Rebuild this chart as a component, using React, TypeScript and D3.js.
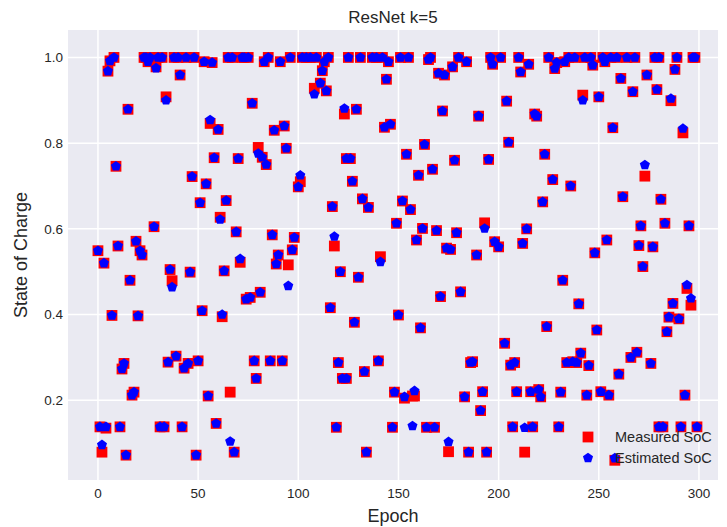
import React from "react";
import * as d3 from "d3";

const epochs = [0,1,2,3,4,5,6,7,8,9,10,11,12,13,14,15,16,17,18,19,20,21,22,23,24,25,26,28,29,30,31,32,33,34,35,36,37,38,39,40,41,42,43,44,45,46,47,48,49,50,51,52,53,54,55,56,57,58,59,60,61,62,63,64,65,66,67,68,69,70,71,72,73,74,75,76,77,78,79,80,81,82,83,84,85,86,87,88,89,90,91,92,93,94,95,96,97,98,100,101,102,104,106,108,109,111,112,113,114,115,116,117,118,119,120,121,122,123,124,124,125,126,127,128,129,130,131,132,133,134,135,137,139,140,141,142,143,144,145,146,147,148,149,150,151,152,153,154,155,156,157,158,159,160,161,162,163,164,165,166,167,168,169,170,171,172,173,174,175,176,177,178,179,180,181,183,184,185,186,187,189,190,191,192,193,194,195,196,197,198,200,201,203,204,205,206,207,208,209,210,211,212,213,214,215,216,217,218,219,220,221,222,223,224,225,227,228,229,230,231,232,233,234,235,236,237,238,239,240,241,242,243,244,245,246,247,248,249,250,251,252,253,254,255,256,257,258,259,260,261,262,264,266,267,268,269,270,271,272,273,274,276,277,278,279,280,280,281,282,283,284,285,286,287,288,289,290,291,292,293,294,295,296,297,298,299];

const measuredSoC = [0.549,0.138,0.079,0.52,0.135,0.968,0.992,0.398,1.0,0.746,0.56,0.138,0.273,0.286,0.072,0.879,0.48,0.212,0.219,0.571,0.397,0.549,0.539,1,1,0.99,1,0.605,0.978,1,0.138,1,0.138,0.908,0.289,0.505,0.479,1,0.303,1,0.959,0.138,0.275,1,0.286,0.499,0.722,1,0.072,0.292,0.661,0.409,0.99,0.705,0.21,0.846,0.988,0.766,0.146,0.832,0.627,0.395,0.502,0.666,1,0.219,1,0.079,0.593,0.764,0.522,1,1,0.436,1,0.44,0.893,0.292,0.251,0.79,0.452,0.767,0.99,0.75,1,0.292,0.586,0.83,0.518,0.539,0.99,0.292,0.84,0.788,0.516,1,0.551,0.58,0.698,0.71,1,1,1,0.928,1,0.94,0.969,0.99,0.922,1,0.416,0.652,0.56,0.137,0.288,0.5,0.251,0.868,0.764,0.251,1,0.764,0.711,0.382,0.879,0.487,1,0.67,0.267,0.079,0.65,1,1,0.292,0.535,1,0.837,0.949,0.99,0.844,0.137,0.219,0.613,0.399,1,0.665,0.205,0.774,1,0.645,0.21,0.21,0.574,0.725,0.369,0.601,0.797,0.137,0.995,1,0.739,0.137,0.596,0.963,0.442,0.875,0.959,0.555,0.08,0.552,0.978,0.76,0.591,1,0.453,0.208,0.99,0.079,0.288,0.29,0.539,0.863,0.176,0.22,0.614,0.079,0.762,1,0.984,0.57,0.558,1,0.333,0.898,0.802,0.282,0.138,0.288,0.22,1,0.966,0.566,0.079,0.6,0.984,0.22,0.138,0.868,0.863,0.225,0.208,0.663,0.774,0.372,1,0.715,0.974,0.988,0.138,0.219,0.48,0.99,0.288,1,0.7,0.29,1,0.288,0.425,0.31,0.912,1,0.212,0.281,1,0.982,0.544,0.364,0.908,0.22,1,0.99,0.574,0.212,1,0.836,0.06,1,0.261,0.951,0.675,1,0.3,0.92,1,0.312,0.561,0.607,0.512,0.723,0.959,0.286,0.558,1,0.925,1,0.138,0.669,0.138,0.613,0.36,0.394,0.899,0.426,0.972,1,0.39,0.138,0.824,0.212,0.461,0.607,0.422,1,1,0.138];

const estimatedSoC = [0.549,0.138,0.096,0.52,0.138,0.968,0.992,0.398,1.0,0.746,0.56,0.138,0.273,0.286,0.072,0.879,0.48,0.212,0.219,0.571,0.397,0.549,0.539,1,1,0.99,1,0.605,0.975,1,0.138,1,0.138,0.9,0.289,0.505,0.464,1,0.303,1,0.959,0.138,0.275,1,0.286,0.499,0.722,1,0.072,0.292,0.661,0.409,0.99,0.705,0.21,0.854,0.988,0.766,0.146,0.832,0.622,0.4,0.502,0.666,1,0.104,1,0.079,0.593,0.764,0.53,1,1,0.436,1,0.44,0.893,0.292,0.251,0.776,0.452,0.767,0.99,0.75,1,0.292,0.586,0.83,0.518,0.539,0.99,0.292,0.84,0.788,0.467,1,0.551,0.58,0.698,0.725,1,1,1,0.914,1,0.94,0.969,0.99,0.922,1,0.416,0.652,0.582,0.137,0.288,0.5,0.251,0.881,0.764,0.251,1,0.764,0.711,0.382,0.879,0.487,1,0.67,0.267,0.079,0.65,1,1,0.292,0.523,1,0.837,0.949,0.99,0.844,0.137,0.219,0.613,0.399,1,0.665,0.208,0.774,1,0.645,0.14,0.222,0.574,0.725,0.369,0.601,0.797,0.137,0.995,1,0.739,0.137,0.596,0.963,0.442,0.875,0.959,0.555,0.103,0.552,0.978,0.76,0.591,1,0.453,0.208,0.99,0.079,0.288,0.29,0.539,0.863,0.176,0.22,0.601,0.079,0.762,1,0.984,0.57,0.558,1,0.333,0.898,0.802,0.282,0.138,0.288,0.22,1,0.966,0.566,0.136,0.6,0.984,0.22,0.138,0.868,0.863,0.225,0.208,0.663,0.774,0.372,1,0.715,0.974,0.988,0.138,0.219,0.48,0.99,0.288,1,0.7,0.29,1,0.288,0.425,0.31,0.9,1,0.212,0.281,1,0.982,0.544,0.364,0.908,0.22,1,0.99,0.574,0.212,1,0.836,0.065,1,0.261,0.951,0.675,1,0.3,0.92,1,0.312,0.561,0.607,0.512,0.749,0.959,0.286,0.558,1,0.925,1,0.138,0.669,0.138,0.613,0.36,0.394,0.904,0.426,0.972,1,0.39,0.138,0.834,0.212,0.469,0.607,0.438,1,1,0.138];

const xTicks = [0, 50, 100, 150, 200, 250, 300];
const yTicks = [0.2, 0.4, 0.6, 0.8, 1.0];
const legendLabels = ["Measured SoC", "Estimated SoC"];

const W = 727, H = 527;
const PL = 68, PR = 718, PT = 30, PB = 480;
const FONT = "'Liberation Sans', Arial, sans-serif";
const TXT = "#262626";

function pentagonPath(cx: number, cy: number, r: number) {
  const pts: [number, number][] = [];
  for (let i = 0; i < 5; i++) {
    const a = -Math.PI / 2 + (i * 2 * Math.PI) / 5;
    pts.push([cx + r * Math.cos(a), cy + r * Math.sin(a)]);
  }
  return "M" + pts.map((p) => p[0].toFixed(2) + "," + p[1].toFixed(2)).join("L") + "Z";
}

export default function App() {
  const x = d3.scaleLinear().domain([-14.95, 309.5]).range([PL, PR]);
  const y = d3.scaleLinear().domain([0.014, 1.064]).range([PB, PT]);
  const sq = 10.8;
  const pr = 5.3;
  const fmt = d3.format(".1f");
  return (
    <svg width={W} height={H} style={{ position: "absolute", left: 0, top: 0, background: "#fff" }}>
      <rect x={PL} y={PT} width={PR - PL} height={PB - PT} fill="#EAEAF2" />
      {xTicks.map((t) => (
        <line key={"gx" + t} x1={x(t)} x2={x(t)} y1={PT} y2={PB} stroke="#fff" strokeWidth={1.5} />
      ))}
      {yTicks.map((t) => (
        <line key={"gy" + t} x1={PL} x2={PR} y1={y(t)} y2={y(t)} stroke="#fff" strokeWidth={1.5} />
      ))}
      {epochs.map((e, i) => (
        <rect key={"m" + i} x={x(e) - sq / 2} y={y(measuredSoC[i]) - sq / 2} width={sq} height={sq} fill="#ff0000" />
      ))}
      {epochs.map((e, i) => (
        <path key={"s" + i} d={pentagonPath(x(e), y(estimatedSoC[i]), pr)} fill="#0000ff" />
      ))}
      {xTicks.map((t) => (
        <text key={"tx" + t} x={x(t)} y={498} textAnchor="middle" fontFamily={FONT} fontSize={13.5} fill={TXT}>
          {t}
        </text>
      ))}
      {yTicks.map((t) => (
        <text key={"ty" + t} x={63} y={y(t) + 4.8} textAnchor="end" fontFamily={FONT} fontSize={13.5} fill={TXT}>
          {fmt(t)}
        </text>
      ))}
      <text x={(PL + PR) / 2} y={23} textAnchor="middle" fontFamily={FONT} fontSize={17} fill={TXT}>
        ResNet k=5
      </text>
      <text x={(PL + PR) / 2} y={522} textAnchor="middle" fontFamily={FONT} fontSize={18} fill={TXT}>
        Epoch
      </text>
      <text
        transform={`translate(27,${(PT + PB) / 2}) rotate(-90)`}
        textAnchor="middle"
        fontFamily={FONT}
        fontSize={18}
        fill={TXT}
      >
        State of Charge
      </text>
      <rect x={588 - sq / 2} y={437 - sq / 2} width={sq} height={sq} fill="#ff0000" />
      <path d={pentagonPath(588, 458, pr)} fill="#0000ff" />
      <text x={615} y={442} fontFamily={FONT} fontSize={14.5} fill={TXT}>{legendLabels[0]}</text>
      <text x={615} y={463} fontFamily={FONT} fontSize={14.5} fill={TXT}>{legendLabels[1]}</text>
    </svg>
  );
}
